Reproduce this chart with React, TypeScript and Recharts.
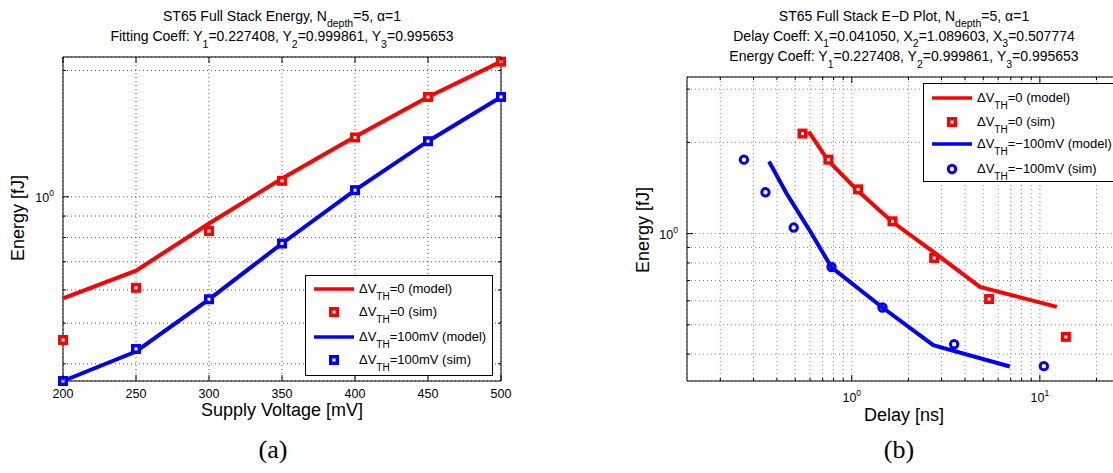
import React from 'react'
import { ComposedChart, Line, XAxis, YAxis, CartesianGrid, ReferenceArea } from 'recharts'

// (a) energy vs supply voltage [mV]
const supplyVoltage = [200, 250, 300, 350, 400, 450, 500]
const energyModel0 = [0.573, 0.667, 0.864, 1.106, 1.39, 1.73, 2.1]
const energySim0 = [0.456, 0.607, 0.829, 1.092, 1.385, 1.73, 2.1]
const energyModel100 = [0.364, 0.428, 0.57, 0.774, 1.037, 1.357, 1.73]
const energySim100 = [0.364, 0.434, 0.57, 0.774, 1.037, 1.357, 1.73]

// (b) energy [fJ] vs delay [ns]
const delayModel0 = [0.59, 0.75, 1.07, 1.62, 2.76, 4.8, 12.3]
const edEnergyModel0 = [2.17, 1.74, 1.39, 1.1, 0.864, 0.667, 0.573]
const delaySim0 = [0.547, 0.751, 1.08, 1.646, 2.74, 5.37, 13.75]
const edEnergySim0 = [2.14, 1.755, 1.4, 1.098, 0.831, 0.608, 0.456]
const delayModel100 = [0.363, 0.45, 0.59, 0.78, 1.456, 2.71, 6.92]
const edEnergyModel100 = [1.73, 1.357, 1.037, 0.774, 0.57, 0.428, 0.364]
const delaySim100 = [0.267, 0.3475, 0.491, 0.78, 1.456, 3.5, 10.5]
const edEnergySim100 = [1.755, 1.369, 1.047, 0.776, 0.57, 0.431, 0.365]

// ticks
const voltTicks = [200, 250, 300, 350, 400, 450, 500]
const energyTicksA = [0.4, 0.5, 0.6, 0.7, 0.8, 0.9, 1, 2]
const energyTicksB = [0.4, 0.5, 0.6, 0.7, 0.8, 0.9, 1, 2, 3]
const delayTicks = [0.2, 0.3, 0.4, 0.5, 0.6, 0.7, 0.8, 0.9, 1, 2, 3, 4, 5, 6, 7, 8, 9, 10, 20]
const decadeLabels: Record<number, string> = { 1: '0', 10: '1' }

const domainVolt: [number, number] = [200, 500]
const domainEnergyA: [number, number] = [0.364, 2.154]
const domainDelay: [number, number] = [0.133, 27]
const domainEnergyB: [number, number] = [0.326, 3.29]

const RED = '#ff0000'
const BLUE = '#0000ff'
const FONT = '"Liberation Sans", Arial, Helvetica, sans-serif'

type Box = { left: number; right: number; top: number; bottom: number }
const BOX_A: Box = { left: 63, right: 501, top: 57, bottom: 381 }
const BOX_B: Box = { left: 127, right: 561, top: 77, bottom: 381 }

const tableA = supplyVoltage.map((v, i) => ({
  v,
  model0: energyModel0[i],
  sim0: energySim0[i],
  model100: energyModel100[i],
  sim100: energySim100[i],
}))

const toPoints = (d: number[], e: number[]) => d.map((x, i) => ({ d: x, e: e[i] }))

const squareDot = (color: string) => (p: any) => (
  <g key={`sq-${color}-${p.index}`}>
    <rect x={p.cx - 5} y={p.cy - 5} width={10} height={10} fill={color} />
    <rect x={p.cx - 1.5} y={p.cy - 1.5} width={3} height={3} fill="#fff" />
  </g>
)

const circleDot = (color: string) => (p: any) => (
  <circle key={`c-${p.index}`} cx={p.cx} cy={p.cy} r={3.7} fill="none" stroke={color} strokeWidth={3} />
)

function yTick(box: Box, majors: number[]) {
  return (props: any) => {
    const { y, payload } = props
    const v = payload.value
    const len = majors.includes(v) ? 6 : 3
    const exp = decadeLabels[v]
    return (
      <g>
        <line x1={box.left} x2={box.left + len} y1={y} y2={y} stroke="#000" />
        <line x1={box.right - len} x2={box.right} y1={y} y2={y} stroke="#000" />
        {exp !== undefined && (
          <text x={box.left - 9} y={y + 5} textAnchor="end" fontFamily={FONT} fontSize={12.5} fill="#000">
            10
            <tspan dy={-6} fontSize={8.5}>
              {exp}
            </tspan>
          </text>
        )}
      </g>
    )
  }
}

function xTickVolt(props: any) {
  const { x, payload } = props
  const b = BOX_A
  return (
    <g>
      <line x1={x} x2={x} y1={b.bottom - 6} y2={b.bottom} stroke="#000" />
      <line x1={x} x2={x} y1={b.top} y2={b.top + 6} stroke="#000" />
      <text x={x} y={b.bottom + 17.3} textAnchor="middle" fontFamily={FONT} fontSize={12.5} fill="#000">
        {payload.value}
      </text>
    </g>
  )
}

function xTickDelay(props: any) {
  const { x, payload } = props
  const b = BOX_B
  const v = payload.value
  const exp = decadeLabels[v]
  const len = exp !== undefined ? 6 : 3
  return (
    <g>
      <line x1={x} x2={x} y1={b.bottom - len} y2={b.bottom} stroke="#000" />
      <line x1={x} x2={x} y1={b.top} y2={b.top + len} stroke="#000" />
      {exp !== undefined && (
        <text x={x} y={b.bottom + 20.7} textAnchor="middle" fontFamily={FONT} fontSize={12.5} fill="#000">
          10
          <tspan dy={-6} fontSize={8.5}>
            {exp}
          </tspan>
        </text>
      )}
    </g>
  )
}

function Sub({ children, size, shift }: { children: React.ReactNode; size: number; shift: number }) {
  return <span style={{ fontSize: size, position: 'relative', top: shift }}>{children}</span>
}

function TextLine({ cx, cy, children, size = 14 }: { cx: number; cy: number; children: React.ReactNode; size?: number }) {
  return (
    <div
      style={{
        position: 'absolute',
        left: cx,
        top: cy - 7.85,
        transform: 'translateX(-50%)',
        whiteSpace: 'nowrap',
        fontFamily: FONT,
        fontSize: size,
        lineHeight: '16px',
        color: '#000',
      }}
    >
      {children}
    </div>
  )
}

type LegendItem = { kind: 'line' | 'square' | 'circle'; color: string; rest: string }

function LegendBox({ left, top, width, height, rows, items }: { left: number; top: number; width: number; height: number; rows: number[]; items: LegendItem[] }) {
  return (
    <div
      style={{
        position: 'absolute',
        left,
        top,
        width,
        height,
        boxSizing: 'border-box',
        border: '1px solid #000',
        background: '#fff',
        fontFamily: FONT,
        fontSize: 13,
      }}
    >
      {items.map((it, i) => (
        <React.Fragment key={i}>
          <svg style={{ position: 'absolute', left: 8, top: rows[i] - 7 }} width={42} height={14}>
            {it.kind === 'line' && <line x1={0} x2={40} y1={7} y2={7} stroke={it.color} strokeWidth={3.7} />}
            {it.kind === 'square' && (
              <g>
                <rect x={15} y={2} width={10} height={10} fill={it.color} />
                <rect x={18.5} y={5.5} width={3} height={3} fill="#fff" />
              </g>
            )}
            {it.kind === 'circle' && <circle cx={20} cy={7} r={3.7} fill="none" stroke={it.color} strokeWidth={3} />}
          </svg>
          <div style={{ position: 'absolute', left: 53, top: rows[i] - 7.85, lineHeight: '16px', whiteSpace: 'nowrap' }}>
            ΔV<Sub size={10} shift={7}>TH</Sub>
            {it.rest}
          </div>
        </React.Fragment>
      ))}
    </div>
  )
}

const legendA: LegendItem[] = [
  { kind: 'line', color: RED, rest: '=0 (model)' },
  { kind: 'square', color: RED, rest: '=0 (sim)' },
  { kind: 'line', color: BLUE, rest: '=100mV (model)' },
  { kind: 'square', color: BLUE, rest: '=100mV (sim)' },
]

const legendB: LegendItem[] = [
  { kind: 'line', color: RED, rest: '=0 (model)' },
  { kind: 'square', color: RED, rest: '=0 (sim)' },
  { kind: 'line', color: BLUE, rest: '=\u2212100mV (model)' },
  { kind: 'circle', color: BLUE, rest: '=\u2212100mV (sim)' },
]

function AxisTitle({ cx, cy, text, rotate }: { cx: number; cy: number; text: string; rotate?: boolean }) {
  return (
    <div
      style={{
        position: 'absolute',
        left: cx,
        top: cy,
        transform: rotate ? 'translate(-50%, -50%) rotate(-90deg)' : 'translate(-50%, -50%)',
        whiteSpace: 'nowrap',
        fontFamily: FONT,
        fontSize: 18,
        lineHeight: '20px',
      }}
    >
      {text}
    </div>
  )
}

function PanelLabel({ cx, text }: { cx: number; text: string }) {
  return (
    <div
      style={{
        position: 'absolute',
        left: cx,
        top: 450,
        transform: 'translate(-50%, -50%)',
        fontFamily: '"Liberation Serif", "DejaVu Serif", serif',
        fontSize: 26,
        lineHeight: '30px',
      }}
    >
      {text}
    </div>
  )
}

export default function App() {
  return (
    <div style={{ position: 'fixed', left: 0, top: 0, width: 1113, height: 473, overflow: 'hidden', background: '#fff' }}>
      {/* (a) */}
      <div style={{ position: 'absolute', left: 0, top: 0 }}>
        <ComposedChart width={560} height={473} data={tableA} margin={{ top: 57, right: 59, bottom: 62, left: 23 }}>
          <CartesianGrid stroke="#555" strokeDasharray="1 3" />
          <XAxis
            dataKey="v"
            type="number"
            domain={domainVolt}
            ticks={voltTicks}
            interval={0}
            height={30}
            axisLine={false}
            tickLine={false}
            tick={xTickVolt}
          />
          <YAxis
            type="number"
            scale="log"
            domain={domainEnergyA}
            ticks={energyTicksA}
            interval={0}
            width={40}
            axisLine={false}
            tickLine={false}
            tick={yTick(BOX_A, [1])}
          />
          <ReferenceArea x1={domainVolt[0]} x2={domainVolt[1]} y1={domainEnergyA[0]} y2={domainEnergyA[1]} fill="none" stroke="#000" strokeWidth={1} />
          <Line dataKey="model0" stroke={RED} strokeWidth={4} dot={false} activeDot={false} isAnimationActive={false} />
          <Line dataKey="sim0" stroke="none" dot={squareDot(RED)} activeDot={false} isAnimationActive={false} />
          <Line dataKey="model100" stroke={BLUE} strokeWidth={4} dot={false} activeDot={false} isAnimationActive={false} />
          <Line dataKey="sim100" stroke="none" dot={squareDot(BLUE)} activeDot={false} isAnimationActive={false} />
        </ComposedChart>
      </div>

      {/* (b) */}
      <div style={{ position: 'absolute', left: 560, top: 0 }}>
        <ComposedChart width={600} height={473} margin={{ top: 77, right: 39, bottom: 62, left: 87 }}>
          <CartesianGrid stroke="#888" strokeDasharray="1 3" />
          <XAxis
            dataKey="d"
            type="number"
            scale="log"
            domain={domainDelay}
            ticks={delayTicks}
            interval={0}
            height={30}
            axisLine={false}
            tickLine={false}
            tick={xTickDelay}
            allowDuplicatedCategory={false}
          />
          <YAxis
            type="number"
            scale="log"
            domain={domainEnergyB}
            ticks={energyTicksB}
            interval={0}
            width={40}
            axisLine={false}
            tickLine={false}
            tick={yTick(BOX_B, [1])}
          />
          <ReferenceArea x1={domainDelay[0]} x2={domainDelay[1]} y1={domainEnergyB[0]} y2={domainEnergyB[1]} fill="none" stroke="#000" strokeWidth={1} />
          <Line data={toPoints(delayModel0, edEnergyModel0)} dataKey="e" stroke={RED} strokeWidth={4} dot={false} activeDot={false} isAnimationActive={false} />
          <Line data={toPoints(delaySim0, edEnergySim0)} dataKey="e" stroke="none" dot={squareDot(RED)} activeDot={false} isAnimationActive={false} />
          <Line data={toPoints(delayModel100, edEnergyModel100)} dataKey="e" stroke={BLUE} strokeWidth={4} dot={false} activeDot={false} isAnimationActive={false} />
          <Line data={toPoints(delaySim100, edEnergySim100)} dataKey="e" stroke="none" dot={circleDot(BLUE)} activeDot={false} isAnimationActive={false} />
        </ComposedChart>
      </div>

      {/* titles */}
      <TextLine cx={282} cy={16}>
        ST65 Full Stack Energy, N<Sub size={10.5} shift={6}>depth</Sub>=5, α=1
      </TextLine>
      <TextLine cx={282} cy={36}>
        Fitting Coeff: Y<Sub size={10.5} shift={6.5}>1</Sub>=0.227408, Y<Sub size={10.5} shift={6.5}>2</Sub>=0.999861, Y
        <Sub size={10.5} shift={6.5}>3</Sub>=0.995653
      </TextLine>
      <TextLine cx={904} cy={15.5}>
        ST65 Full Stack E{'\u2212'}D Plot, N<Sub size={10.5} shift={6}>depth</Sub>=5, α=1
      </TextLine>
      <TextLine cx={904} cy={35.8}>
        Delay Coeff: X<Sub size={10.5} shift={6.5}>1</Sub>=0.041050, X<Sub size={10.5} shift={6.5}>2</Sub>=1.089603, X
        <Sub size={10.5} shift={6.5}>3</Sub>=0.507774
      </TextLine>
      <TextLine cx={904} cy={56.1}>
        Energy Coeff: Y<Sub size={10.5} shift={6.5}>1</Sub>=0.227408, Y<Sub size={10.5} shift={6.5}>2</Sub>=0.999861, Y
        <Sub size={10.5} shift={6.5}>3</Sub>=0.995653
      </TextLine>

      {/* axis titles */}
      <AxisTitle cx={18} cy={218} text="Energy [fJ]" rotate />
      <AxisTitle cx={282} cy={410} text="Supply Voltage [mV]" />
      <AxisTitle cx={643} cy={230} text="Energy [fJ]" rotate />
      <AxisTitle cx={904} cy={414.8} text="Delay [ns]" />

      {/* legends */}
      <LegendBox left={305} top={275} width={188} height={101} rows={[13, 36.3, 60.7, 84]} items={legendA} />
      <LegendBox left={923} top={83} width={200} height={99} rows={[13.7, 37.7, 60.3, 84.7]} items={legendB} />

      <PanelLabel cx={273} text="(a)" />
      <PanelLabel cx={899} text="(b)" />
    </div>
  )
}
